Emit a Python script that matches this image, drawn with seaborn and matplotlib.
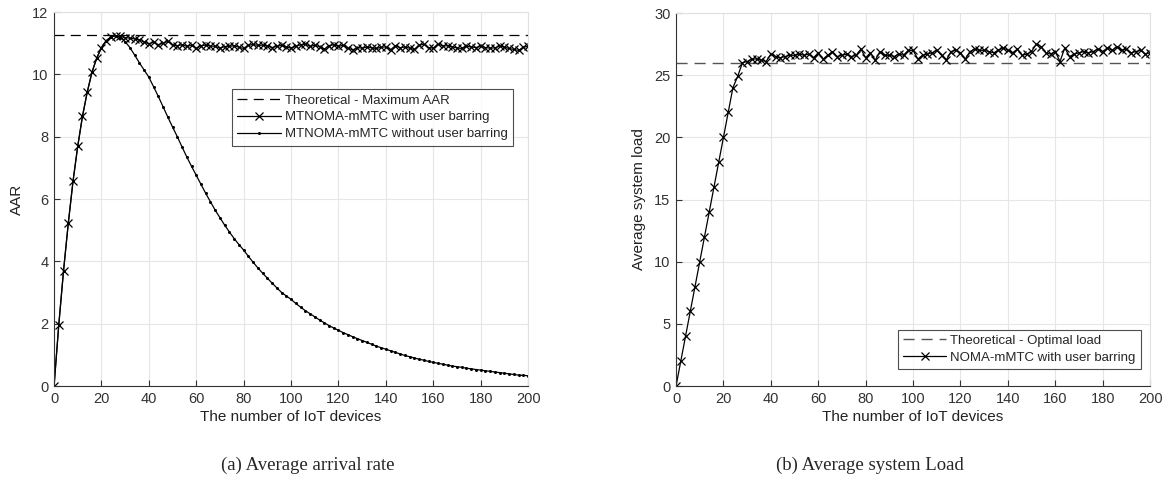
import matplotlib.pyplot as plt
import numpy as np
import pandas as pd
import seaborn as sns

# number of IoT devices (step of 2)
devices = list(range(0, 201, 2))

aar_max = 11.25
load_opt = 26.0

aar_barring = [
    0.00, 1.97, 3.70, 5.22, 6.57, 7.70, 8.66, 9.43, 10.07, 10.52,
    10.86, 11.08, 11.20, 11.24, 11.22, 11.18, 11.16, 11.14, 11.10, 11.04,
    10.98, 11.03, 10.95, 11.00, 11.06, 10.94, 10.92, 10.95, 10.90, 10.93,
    10.83, 10.92, 10.94, 10.91, 10.90, 10.84, 10.89, 10.90, 10.92, 10.87,
    10.83, 10.93, 10.96, 10.93, 10.94, 10.91, 10.86, 10.90, 10.93, 10.88,
    10.84, 10.90, 10.95, 10.97, 10.90, 10.93, 10.89, 10.80, 10.92, 10.95,
    10.90, 10.93, 10.85, 10.78, 10.86, 10.84, 10.88, 10.85, 10.83, 10.87,
    10.88, 10.79, 10.92, 10.85, 10.88, 10.84, 10.80, 10.93, 10.97, 10.86,
    10.84, 10.97, 10.91, 10.92, 10.88, 10.85, 10.83, 10.90, 10.88, 10.86,
    10.90, 10.86, 10.84, 10.85, 10.91, 10.87, 10.83, 10.80, 10.77, 10.87,
    10.90,
]

aar_no_barring = [
    0.00, 1.97, 3.70, 5.22, 6.57, 7.70, 8.66, 9.43, 10.07, 10.52,
    10.86, 11.08, 11.20, 11.24, 11.18, 11.05, 10.86, 10.62, 10.37, 10.14,
    9.91, 9.60, 9.29, 8.96, 8.63, 8.31, 8.00, 7.67, 7.35, 7.05,
    6.76, 6.47, 6.18, 5.91, 5.64, 5.40, 5.16, 4.94, 4.73, 4.54,
    4.36, 4.16, 3.97, 3.79, 3.62, 3.46, 3.30, 3.15, 3.00, 2.89,
    2.78, 2.65, 2.53, 2.42, 2.32, 2.22, 2.12, 2.03, 1.94, 1.86,
    1.79, 1.71, 1.65, 1.58, 1.52, 1.46, 1.40, 1.34, 1.28, 1.23,
    1.18, 1.13, 1.08, 1.03, 0.98, 0.94, 0.90, 0.86, 0.83, 0.79,
    0.76, 0.73, 0.70, 0.67, 0.64, 0.62, 0.60, 0.57, 0.55, 0.53,
    0.51, 0.49, 0.47, 0.45, 0.43, 0.41, 0.39, 0.37, 0.35, 0.34,
    0.33,
]

load_barring = [
    0.0, 2.0, 4.0, 6.0, 8.0, 10.0, 12.0, 14.0, 16.0, 18.0,
    20.0, 22.0, 24.0, 24.9, 26.0, 26.1, 26.3, 26.3, 26.2, 26.1,
    26.7, 26.5, 26.4, 26.5, 26.6, 26.6, 26.7, 26.6, 26.7, 26.4,
    26.8, 26.3, 26.6, 26.9, 26.5, 26.6, 26.7, 26.5, 26.6, 27.1,
    26.4, 26.8, 26.2, 26.9, 26.6, 26.6, 26.5, 26.7, 26.6, 27.0,
    27.0, 26.3, 26.6, 26.7, 26.8, 27.0, 26.6, 26.2, 26.9, 27.0,
    26.8, 26.3, 26.9, 27.1, 27.0, 27.0, 26.9, 26.8, 27.0, 27.2,
    27.0, 26.8, 27.1, 26.6, 26.7, 26.9, 27.5, 27.3, 26.8, 26.7,
    26.9, 26.1, 27.2, 26.5, 26.7, 26.8, 26.9, 26.8, 26.9, 27.1,
    26.9, 27.2, 27.0, 27.3, 27.0, 27.1, 26.8, 26.9, 27.0, 26.7,
    26.8,
]

sns.set_style("whitegrid", {"grid.color": "#e6e6e6", "axes.edgecolor": "#e0e0e0"})
plt.rcParams["font.family"] = ["Liberation Sans", "DejaVu Sans"]

AXIS_COLOR = "#333333"
X_STYLE = dict(linewidth=0.9, marker="x", markersize=5.5, markeredgewidth=0.9,
               markeredgecolor="black")


def style_axis(ax, ymax, ystep):
    ax.set_xlim(0, 200)
    ax.set_ylim(0, ymax)
    ax.set_xticks(np.arange(0, 201, 20))
    ax.set_yticks(np.arange(0, ymax + 0.1, ystep))
    ax.spines["left"].set_color(AXIS_COLOR)
    ax.spines["bottom"].set_color(AXIS_COLOR)
    ax.spines["top"].set_color("#e0e0e0")
    ax.spines["right"].set_color("#e0e0e0")
    ax.tick_params(direction="in", length=4, width=0.8, colors=AXIS_COLOR,
                   labelsize=10.5, bottom=True, left=True, pad=4)
    ax.set_xlabel("The number of IoT devices", fontsize=11, color="#222222", labelpad=3)


def style_legend(ax, **kw):
    leg = ax.legend(fontsize=9.5, frameon=True, fancybox=False, edgecolor="#222222",
                    handlelength=3.3, borderpad=0.4, labelspacing=0.35,
                    handletextpad=0.3, borderaxespad=0, **kw)
    leg.get_frame().set_linewidth(0.8)


fig = plt.figure(figsize=(11.65, 4.93), dpi=100)
ax1 = fig.add_axes([0.0464, 0.217, 0.4069, 0.7586])
ax2 = fig.add_axes([0.5803, 0.217, 0.4069, 0.7566])

left_df = pd.DataFrame({
    "devices": devices,
    "barring": aar_barring,
    "no_barring": aar_no_barring,
})
ax1.axhline(aar_max, color="black", linestyle=(0, (8, 5)), linewidth=0.9,
            label="Theoretical - Maximum AAR")
sns.lineplot(data=left_df, x="devices", y="barring", ax=ax1, color="black",
             label="MTNOMA-mMTC with user barring", **X_STYLE)
sns.lineplot(data=left_df, x="devices", y="no_barring", ax=ax1, color="black",
             linewidth=0.9, marker="o", markersize=2.2, markeredgewidth=0,
             label="MTNOMA-mMTC without user barring")
style_axis(ax1, 12, 2)
ax1.set_ylabel("AAR", fontsize=11, color="#222222", labelpad=6)
style_legend(ax1, loc="upper right", bbox_to_anchor=(0.968, 0.794))

right_df = pd.DataFrame({"devices": devices, "load": load_barring})
ax2.axhline(load_opt, color="#555555", linestyle=(0, (8, 5)), linewidth=1.0,
            label="Theoretical - Optimal load")
sns.lineplot(data=right_df, x="devices", y="load", ax=ax2, color="black",
             label="NOMA-mMTC with user barring", **X_STYLE)
style_axis(ax2, 30, 5)
ax2.set_ylabel("Average system load", fontsize=11, color="#222222", labelpad=6)
style_legend(ax2, loc="lower right", bbox_to_anchor=(0.981, 0.045))

fig.text(0.264, 0.057, "(a) Average arrival rate", ha="center", va="center",
         fontsize=13.5, family=["Liberation Serif", "DejaVu Serif"])
fig.text(0.747, 0.057, "(b) Average system Load", ha="center", va="center",
         fontsize=13.5, family=["Liberation Serif", "DejaVu Serif"])

fig.savefig("out.png", dpi=100)
